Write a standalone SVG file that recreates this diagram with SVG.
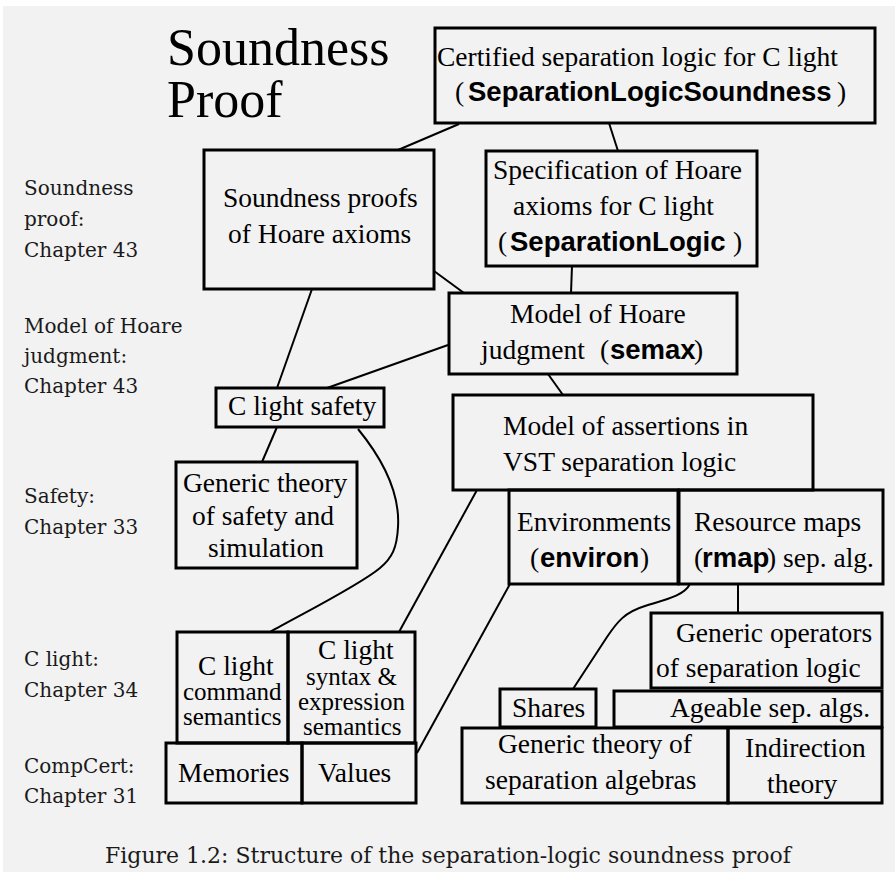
<svg xmlns="http://www.w3.org/2000/svg" width="895" height="872" viewBox="0 0 895 872">
<style>
.bx{fill:none;stroke:#000;stroke-width:3}
.t{font-family:"Liberation Serif","Times New Roman",serif;font-size:27.5px;fill:#000}
.s{font-size:25px}
.b{font-family:"Liberation Sans",Arial,sans-serif;font-weight:bold}
.lab{font-family:"DejaVu Serif",serif;font-size:20px;fill:#1a1a1a}
.cap{font-family:"DejaVu Serif",serif;font-size:22px;fill:#1a1a1a}
.ln{fill:none;stroke:#000;stroke-width:2}
</style>
<rect x="3" y="6" width="892" height="866" fill="#f2f2f2"/>
<text class="t" x="167" y="65" style="font-size:52px">Soundness</text>
<text class="t" x="167" y="117" style="font-size:52px">Proof</text>
<g id="labels">
<text class="lab" x="24" y="195">Soundness</text>
<text class="lab" x="24" y="226">proof:</text>
<text class="lab" x="24" y="257">Chapter 43</text>
<text class="lab" x="24" y="333">Model of Hoare</text>
<text class="lab" x="24" y="363">judgment:</text>
<text class="lab" x="24" y="393">Chapter 43</text>
<text class="lab" x="24" y="503">Safety:</text>
<text class="lab" x="24" y="534">Chapter 33</text>
<text class="lab" x="24" y="666">C light:</text>
<text class="lab" x="24" y="697">Chapter 34</text>
<text class="lab" x="24" y="773">CompCert:</text>
<text class="lab" x="24" y="803">Chapter 31</text>
</g>
<g id="connectors">
<line class="ln" x1="459" y1="124" x2="398" y2="150"/>
<line class="ln" x1="609" y1="123" x2="618" y2="151"/>
<line class="ln" x1="572" y1="266" x2="571" y2="293"/>
<line class="ln" x1="434" y1="271" x2="464" y2="293"/>
<line class="ln" x1="312" y1="289" x2="277" y2="388"/>
<line class="ln" x1="448" y1="345" x2="327" y2="388"/>
<line class="ln" x1="548" y1="374" x2="563" y2="395"/>
<line class="ln" x1="277" y1="427" x2="262" y2="462"/>
<path class="ln" d="M358,429 C385,462 400,495 398,527 C397,548 392,558 380,568 C360,585 300,615 270,632"/>
<line class="ln" x1="477" y1="490" x2="399" y2="632"/>
<line class="ln" x1="510" y1="584" x2="417" y2="753"/>
<path class="ln" d="M690,584 C684,596 664,600 645,606 C625,612 617,622 607,637 L573,689"/>
<line class="ln" x1="738" y1="584" x2="738" y2="613"/>
</g>
<g id="certified">
<rect class="bx" x="435" y="28" width="440" height="95"/>
<text class="t" x="437" y="66">Certified separation logic for C light</text>
<text class="t" y="101"><tspan x="455">(</tspan><tspan class="b" x="468">SeparationLogicSoundness</tspan><tspan x="837">)</tspan></text>
</g>
<g id="spec">
<rect class="bx" x="486" y="151" width="271" height="115"/>
<text class="t" x="493" y="179">Specification of Hoare</text>
<text class="t" x="513" y="215">axioms for C light</text>
<text class="t" y="251"><tspan x="498">(</tspan><tspan class="b" x="510">SeparationLogic</tspan><tspan x="733">)</tspan></text>
</g>
<g id="soundproofs">
<rect class="bx" x="204" y="150" width="230" height="139"/>
<text class="t" x="223" y="207">Soundness proofs</text>
<text class="t" x="228" y="243">of Hoare axioms</text>
</g>
<g id="semax">
<rect class="bx" x="449" y="293" width="288" height="81"/>
<text class="t" x="510" y="323">Model of Hoare</text>
<text class="t" y="359"><tspan x="481">judgment</tspan><tspan x="600">(</tspan><tspan class="b" x="610">semax</tspan><tspan x="694">)</tspan></text>
</g>
<g id="assertions">
<rect class="bx" x="453" y="395" width="360" height="95"/>
<text class="t" x="503" y="435">Model of assertions in</text>
<text class="t" x="503" y="471">VST separation logic</text>
</g>
<g id="environ">
<rect class="bx" x="509" y="490" width="169" height="94"/>
<text class="t" x="517" y="531">Environments</text>
<text class="t" y="567"><tspan x="530">(</tspan><tspan class="b" x="540">environ</tspan><tspan x="640">)</tspan></text>
</g>
<g id="rmap">
<rect class="bx" x="679" y="490" width="204" height="94"/>
<text class="t" x="694" y="531">Resource maps</text>
<text class="t" y="567"><tspan x="694">(</tspan><tspan class="b" x="702">rmap</tspan><tspan x="767">) sep. alg.</tspan></text>
</g>
<g id="genops">
<rect class="bx" x="651" y="613" width="231" height="75"/>
<text class="t" x="676" y="642">Generic operators</text>
<text class="t" x="656" y="677">of separation logic</text>
</g>
<g id="shares">
<rect class="bx" x="500" y="689" width="96" height="38"/>
<text class="t" x="512" y="717">Shares</text>
</g>
<g id="ageable">
<rect class="bx" x="614" y="691" width="268" height="36"/>
<text class="t" x="670" y="717">Ageable sep. algs.</text>
</g>
<g id="sepalg">
<rect class="bx" x="462" y="728" width="266" height="75"/>
<text class="t" x="498" y="753">Generic theory of</text>
<text class="t" x="485" y="789">separation algebras</text>
</g>
<g id="indirection">
<rect class="bx" x="728" y="728" width="154" height="75"/>
<text class="t" x="745" y="757">Indirection</text>
<text class="t" x="767" y="793">theory</text>
</g>
<g id="safety">
<rect class="bx" x="216" y="388" width="168" height="39"/>
<text class="t" x="228" y="415">C light safety</text>
</g>
<g id="gensafety">
<rect class="bx" x="176" y="462" width="181" height="106"/>
<text class="t" x="183" y="492">Generic theory</text>
<text class="t" x="192" y="525">of safety and</text>
<text class="t" x="208" y="557">simulation</text>
</g>
<g id="cmdsem">
<rect class="bx" x="177" y="632" width="111" height="111"/>
<text class="t" x="198" y="675">C light</text>
<text class="t s" x="183" y="700">command</text>
<text class="t s" x="183" y="725">semantics</text>
</g>
<g id="exprsem">
<rect class="bx" x="288" y="632" width="127" height="111"/>
<text class="t" x="318" y="659">C light</text>
<text class="t s" x="306" y="685">syntax &amp;</text>
<text class="t s" x="298" y="710">expression</text>
<text class="t s" x="303" y="735">semantics</text>
</g>
<g id="memories">
<rect class="bx" x="166" y="743" width="136" height="60"/>
<text class="t" x="178" y="782">Memories</text>
</g>
<g id="values">
<rect class="bx" x="302" y="743" width="114" height="60"/>
<text class="t" x="318" y="782">Values</text>
</g>
<text class="cap" x="105" y="863">Figure 1.2: Structure of the separation-logic soundness proof</text>
</svg>
